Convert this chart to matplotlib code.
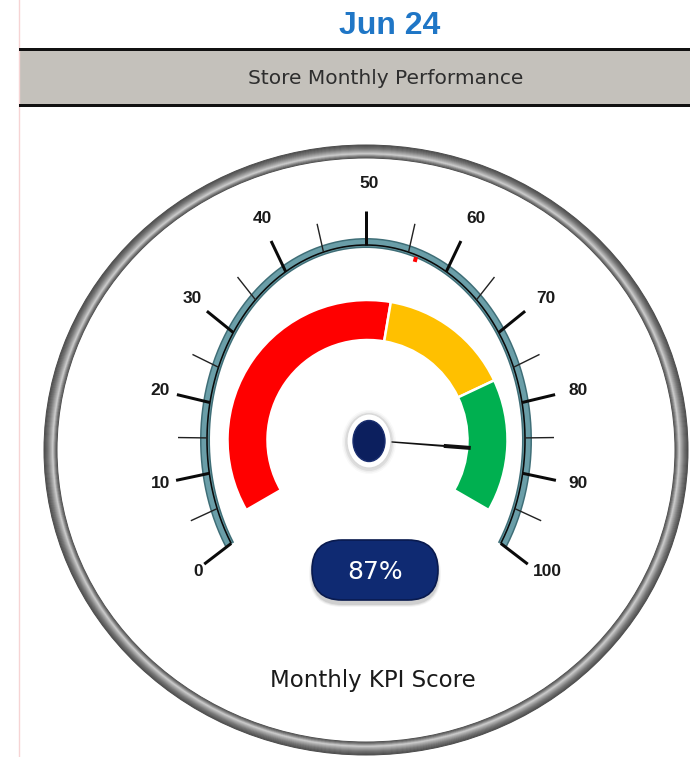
import numpy as np
import matplotlib.pyplot as plt
from matplotlib.patches import Ellipse, Wedge, FancyBboxPatch, Rectangle, Polygon

# chart content
title = "Jun 24"
header = "Store Monthly Performance"
caption = "Monthly KPI Score"
major_ticks = [0, 10, 20, 30, 40, 50, 60, 70, 80, 90, 100]
minor_ticks = [5, 15, 25, 35, 45, 55, 65, 75, 85, 95]
band_edges = [0, 54, 77, 100]
band_colors = ["#ff0000", "#ffc000", "#00b050"]
kpi_value = 87
target_value = 56

W, H = 690, 757
fig = plt.figure(figsize=(W / 100, H / 100), dpi=100)
ax = fig.add_axes([0, 0, 1, 1])
ax.set_xlim(0, W)
ax.set_ylim(0, H)
ax.axis("off")

PT = 0.72  # points per pixel

# gauge geometry (pixel units, y up)
cx, cy = 366, H - 440
scale_rx, scale_ry = 161, 197


def scale_angle(v):
    return 217.5 - 2.55 * v


def band_angle(v):
    return 210 - 2.4 * v


def ray_r(th, rx, ry):
    t = np.radians(th)
    return 1 / np.sqrt((np.cos(t) / rx) ** 2 + (np.sin(t) / ry) ** 2)


def polar(th, r, x0=None):
    t = np.radians(th)
    x0 = cx if x0 is None else x0
    return x0 + r * np.cos(t), cy + r * np.sin(t)


# page bits
ax.plot([19, 19], [0, H], color="#f6d4d4", lw=1)
ax.text(390, H - 26, title, ha="center", va="center", fontsize=23,
        fontweight="bold", color="#1f76c6", family="Liberation Sans")
ax.add_patch(Rectangle((20, H - 106), W - 20, 58, facecolor="#c4c1bb",
                       edgecolor="none"))
ax.plot([20, W], [H - 49, H - 49], color="#111111", lw=3 * PT)
ax.plot([20, W], [H - 105, H - 105], color="#111111", lw=3 * PT)
ax.text(386, H - 78, header, ha="center", va="center", fontsize=14.5,
        color="#2e2e2e", family="DejaVu Sans")

# bezel ring with a rough metallic gradient
bx, by = 366, H - 450
brx, bry = 315.5, 298.5
offsets = np.arange(-6.5, 7.0, 0.5)
profile = np.interp(offsets, [-6.5, -4.5, -2, 0.5, 3, 6.5],
                    [0.30, 0.48, 0.80, 0.62, 0.45, 0.30])
for off, g in zip(offsets, profile):
    ax.add_patch(Ellipse((bx, by), 2 * (brx + off), 2 * (bry + off),
                         fill=False, edgecolor=(g, g, g), lw=1.0 * PT))

# coloured bands
for lo, hi, col in zip(band_edges[:-1], band_edges[1:], band_colors):
    ax.add_patch(Wedge((cx + 1.5, cy), 140, band_angle(hi), band_angle(lo),
                       width=40, facecolor=col, edgecolor="white",
                       lw=2.5 * PT))

# scale arc
th = np.linspace(scale_angle(0), scale_angle(100), 400)
x, y = polar(th, ray_r(th, scale_rx, scale_ry))
ax.plot(x, y, color="#3f6e77", lw=10 * PT, solid_capstyle="butt")
ax.plot(x, y, color="#6a9ea8", lw=7 * PT, solid_capstyle="butt")
x, y = polar(th, ray_r(th, scale_rx - 2, scale_ry - 2))
ax.plot(x, y, color="#0a0a0a", lw=1.6 * PT, solid_capstyle="butt")

# ticks and labels
for v in major_ticks:
    a = scale_angle(v)
    r0 = ray_r(a, scale_rx - 2, scale_ry - 2)
    x, y = polar(np.array([a, a]), np.array([r0, r0 + 34]))
    ax.plot(x, y, color="#0a0a0a", lw=3 * PT, solid_capstyle="butt")
    t = np.radians(a)
    lr = ray_r(a, 203, 250 if np.sin(t) >= 0 else 224)
    lx, ly = polar(a, lr, x0=cx + 3)
    tw = 9.7 * len(str(v))
    lx += np.cos(t) * tw / 2
    ly += np.sin(t) * 6.5
    ax.text(lx, ly, str(v), ha="center", va="center", fontsize=12.5,
            fontweight="bold", color="#1a1a1a", family="Liberation Sans")
for v in minor_ticks:
    a = scale_angle(v)
    r0 = ray_r(a, scale_rx, scale_ry)
    x, y = polar(np.array([a, a]), np.array([r0 - 2, r0 + 27]))
    ax.plot(x, y, color="#222222", lw=1.4 * PT, solid_capstyle="butt")

# target marker
a = scale_angle(target_value)
r0 = ray_r(a, scale_rx, scale_ry)
x, y = polar(np.array([a, a]), np.array([r0 - 9, r0 - 4]))
ax.plot(x, y, color="#ff0000", lw=4 * PT, solid_capstyle="butt")

# needle
a = scale_angle(kpi_value)
t = np.radians(a)
nx, ny = -np.sin(t), np.cos(t)
p1 = polar(a, 22)
p2 = polar(a, 78)
p3 = polar(a, 105)
needle = [(p1[0] + nx * 0.7, p1[1] + ny * 0.7), (p2[0] + nx * 1.0, p2[1] + ny * 1.0),
          (p2[0] + nx * 2.0, p2[1] + ny * 2.0), (p3[0] + nx * 2.0, p3[1] + ny * 2.0),
          (p3[0] - nx * 2.0, p3[1] - ny * 2.0), (p2[0] - nx * 2.0, p2[1] - ny * 2.0),
          (p2[0] - nx * 1.0, p2[1] - ny * 1.0), (p1[0] - nx * 0.7, p1[1] - ny * 0.7)]
ax.add_patch(Polygon(needle, closed=True, facecolor="#111111", edgecolor="none"))

# hub
hx, hy = cx + 3, cy - 1
for k, al in [(10, 0.04), (7, 0.07), (4, 0.12)]:
    ax.add_patch(Ellipse((hx, hy - 1), 44 + k, 54 + k, facecolor="#666666",
                         edgecolor="none", alpha=al))
ax.add_patch(Ellipse((hx, hy), 44, 54, facecolor="white", edgecolor="#d8d8d8",
                     lw=0.8))
ax.add_patch(Ellipse((hx, hy), 32, 41, facecolor="#0c1f5e", edgecolor="#1b2f70",
                     lw=1))

# value pill
px, py, pw, ph = 375, H - 570, 126, 60
for k, al in [(6, 0.06), (4, 0.10), (2, 0.14)]:
    ax.add_patch(FancyBboxPatch((px - pw / 2 - k / 2, py - ph / 2 - 4 - k / 2), pw + k, ph + k,
                                boxstyle=f"round,pad=0,rounding_size={ph / 2 + k / 2}",
                                facecolor="#555555", edgecolor="none", alpha=al))
ax.add_patch(FancyBboxPatch((px - pw / 2, py - ph / 2), pw, ph,
                            boxstyle=f"round,pad=0,rounding_size={ph / 2}",
                            facecolor="#0f2a72", edgecolor="#091a4e", lw=1.2))
ax.text(px, py - 2, f"{kpi_value}%", ha="center", va="center", fontsize=18,
        color="white", family="DejaVu Sans")

ax.text(373, H - 680, caption, ha="center", va="center", fontsize=16.5,
        color="#1a1a1a", family="DejaVu Sans")

fig.savefig("out.png", dpi=100)
